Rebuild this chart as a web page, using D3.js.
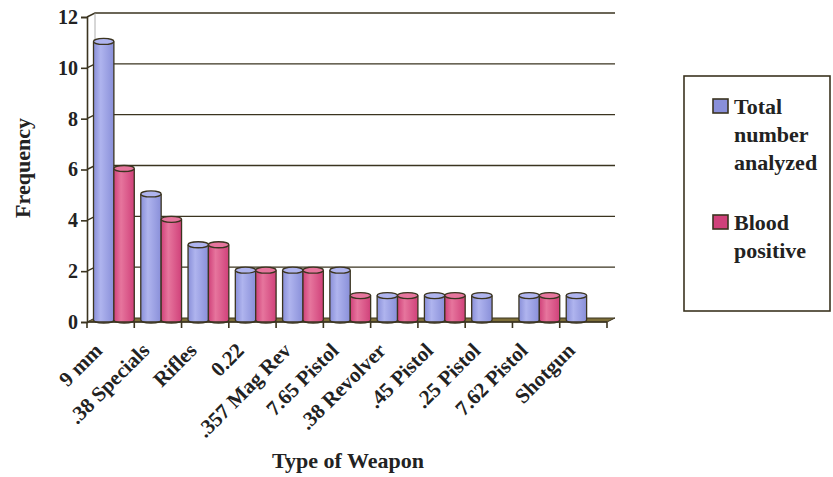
<!DOCTYPE html>
<html>
<head>
<meta charset="utf-8">
<script src="https://cdn.jsdelivr.net/npm/d3@7/dist/d3.min.js"></script>
<style>
  body { margin: 0; background: #fff; }
  text { font-family: "Liberation Serif", "Times New Roman", serif; font-weight: bold; fill: #222; }
</style>
</head>
<body>
<svg id="chart" width="833" height="477"></svg>
<script>
// data
const weapons = ['9 mm', '.38 Specials', 'Rifles', '0.22', '.357 Mag Rev', '7.65 Pistol',
  '.38 Revolver', '.45 Pistol', '.25 Pistol', '7.62 Pistol', 'Shotgun'];
const totalAnalyzed = [11, 5, 3, 2, 2, 2, 1, 1, 1, 1, 1];
const bloodPositive = [6, 4, 3, 2, 2, 1, 1, 1, 0, 1, 0];
const seriesNames = ['Total number analyzed', 'Blood positive'];
const yTicks = [0, 2, 4, 6, 8, 10, 12];

const cs = {
  pallette: {
    blue: '#898fd9',
    blueLight: '#afb4ee',
    pink: '#d0417a',
    pinkLight: '#e6759d',
    stroke: '#3b3420',
  },
  left: 87,
  right: 607,
  top: 17,
  bottom: 322,
  depth: { dx: 8, dy: -4 },
};

const svg = d3.select('#chart');

const x = d3.scaleBand().domain(weapons).range([cs.left, cs.right]).padding(0);
const inner = d3.scaleBand().domain([0, 1])
  .range([6.5, x.bandwidth()]).padding(0);
const y = d3.scaleLinear().domain([0, 12]).range([cs.bottom, cs.top]);

// back wall gridlines
const grid = svg.append('g');
yTicks.filter(t => t > 0).forEach((t) => {
  grid.append('path')
    .attr('fill', 'none')
    .attr('stroke', cs.pallette.stroke)
    .attr('stroke-width', 1.4)
    .attr('d', `M${cs.left},${y(t)} L${cs.left + cs.depth.dx},${y(t) + cs.depth.dy} L${cs.right + cs.depth.dx},${y(t) + cs.depth.dy}`);
});

// side wall edge
svg.append('line')
  .attr('x1', cs.left + cs.depth.dx).attr('x2', cs.left + cs.depth.dx)
  .attr('y1', y(12) + cs.depth.dy).attr('y2', y(0) + cs.depth.dy)
  .attr('stroke', '#999').attr('stroke-width', 0.8);

// floor
svg.append('path')
  .attr('fill', '#7d6e38')
  .attr('stroke', cs.pallette.stroke)
  .attr('stroke-width', 1)
  .attr('d', `M${cs.left},${cs.bottom} L${cs.left + cs.depth.dx},${cs.bottom + cs.depth.dy} L${cs.right + cs.depth.dx},${cs.bottom + cs.depth.dy} L${cs.right},${cs.bottom} Z`);

// gradients for cylinders
const defs = svg.append('defs');
[['blue', cs.pallette.blue, cs.pallette.blueLight], ['pink', cs.pallette.pink, cs.pallette.pinkLight]].forEach(([id, c, l]) => {
  const g = defs.append('linearGradient').attr('id', `g-${id}`).attr('x1', 0).attr('x2', 1);
  g.append('stop').attr('offset', '0%').attr('stop-color', c);
  g.append('stop').attr('offset', '35%').attr('stop-color', l);
  g.append('stop').attr('offset', '100%').attr('stop-color', c);
});

const rows = weapons.map((w, i) => ({ dim: w, vals: [totalAnalyzed[i], bloodPositive[i]] }));
const bars = [];
rows.forEach((r) => {
  r.vals.forEach((v, k) => bars.push({ dim: r.dim, k, v }));
});

const bw = inner.bandwidth();
const ry = 3;
const barG = svg.append('g');
bars.filter(d => d.v > 0).forEach((d) => {
  const x0 = x(d.dim) + inner(d.k);
  const top = y(d.v) - 1;
  const base = cs.bottom - 2;
  const fillId = d.k === 0 ? 'g-blue' : 'g-pink';
  const light = d.k === 0 ? cs.pallette.blueLight : cs.pallette.pinkLight;
  barG.append('path')
    .attr('fill', `url(#${fillId})`)
    .attr('stroke', cs.pallette.stroke)
    .attr('stroke-width', 1.3)
    .attr('d', `M${x0},${top} L${x0},${base} A${bw / 2},${ry} 0 0 0 ${x0 + bw},${base} L${x0 + bw},${top}`);
  barG.append('ellipse')
    .attr('cx', x0 + bw / 2)
    .attr('cy', top)
    .attr('rx', bw / 2)
    .attr('ry', ry)
    .attr('fill', light)
    .attr('stroke', cs.pallette.stroke)
    .attr('stroke-width', 1.3);
});

// axes
const yAxis = d3.axisLeft(y).tickValues(yTicks).tickSize(6).tickPadding(3).tickFormat(d3.format('d'));
const yg = svg.append('g').attr('transform', `translate(${cs.left},0)`).call(yAxis);
yg.select('.domain').attr('stroke', cs.pallette.stroke).attr('stroke-width', 1.6);
yg.selectAll('.tick line').attr('stroke', cs.pallette.stroke).attr('stroke-width', 1.6);
yg.selectAll('.tick text').style('font-size', '20px').attr('fill', '#222');

const xTickPos = weapons.map(w => x(w)).concat([cs.right]);
const xg = svg.append('g');
xg.append('line')
  .attr('x1', cs.left).attr('x2', cs.right)
  .attr('y1', cs.bottom).attr('y2', cs.bottom)
  .attr('stroke', cs.pallette.stroke).attr('stroke-width', 1.6);
xg.selectAll('line.tk').data(xTickPos).enter().append('line')
  .attr('class', 'tk')
  .attr('x1', d => d).attr('x2', d => d)
  .attr('y1', cs.bottom).attr('y2', cs.bottom + 6)
  .attr('stroke', cs.pallette.stroke).attr('stroke-width', 1.6);

xg.selectAll('text.lbl').data(weapons).enter().append('text')
  .attr('class', 'lbl')
  .attr('text-anchor', 'end')
  .attr('transform', d => `translate(${x(d) + x.bandwidth() / 2 - 17},${cs.bottom + 20}) rotate(-45)`)
  .attr('dy', '0.66em')
  .style('font-size', '21px')
  .text(d => d);

// axis titles
svg.append('text')
  .attr('transform', 'translate(30,168) rotate(-90)')
  .attr('text-anchor', 'middle')
  .style('font-size', '22px')
  .text('Frequency');
svg.append('text')
  .attr('x', 348).attr('y', 468)
  .attr('text-anchor', 'middle')
  .style('font-size', '22px')
  .text('Type of Weapon');

// legend
const lg = svg.append('g');
lg.append('rect')
  .attr('x', 684).attr('y', 76).attr('width', 146).attr('height', 235)
  .attr('fill', '#fff').attr('stroke', cs.pallette.stroke).attr('stroke-width', 1.6);
const legendLines = [['Total', 'number', 'analyzed'], ['Blood', 'positive']];
const legendY = [114, 230];
const legendFill = [cs.pallette.blue, cs.pallette.pink];
seriesNames.forEach((s, i) => {
  lg.append('rect')
    .attr('x', 713).attr('y', legendY[i] - 15).attr('width', 15).attr('height', 14)
    .attr('fill', legendFill[i]).attr('stroke', cs.pallette.stroke).attr('stroke-width', 1.6);
  const t = lg.append('text').attr('x', 734).attr('y', legendY[i]).style('font-size', '22px');
  legendLines[i].forEach((line, j) => {
    t.append('tspan').attr('x', 734).attr('dy', j === 0 ? 0 : 28).text(line);
  });
});
</script>
</body>
</html>
